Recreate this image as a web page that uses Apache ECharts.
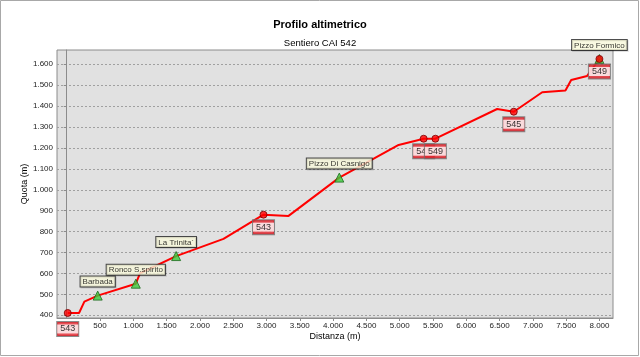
<!DOCTYPE html>
<html><head><meta charset="utf-8">
<script src="https://cdn.jsdelivr.net/npm/echarts@6/dist/echarts.min.js"></script>
<style>html,body{margin:0;padding:0;background:#fff}#c{width:640px;height:357px}</style>
</head><body><div id="c"></div>
<script>
// Profile (distance m, altitude m)
const profileDist = [15,185,265,465,1037,1102,1643,2354,2955,3331,4093,4984,5360,5536,6463,6713,7140,7489,7575,7815,7999];
const profileAlt  = [411,411,465,494,551,601,683,765,881,875,1058,1214,1244,1244,1386,1373,1466,1474,1525,1544,1625];
// Trail junction signs
const signDist   = [15,2955,5360,5536,6713,7999];
const signAlt    = [411,881,1244,1244,1373,1625];
const signLabels = ['543','543','542','549','545','549'];
// Waypoints
const wpNames = ['Barbada','Ronco S.spirito','La Trinita`','Pizzo Di Casnigo','Pizzo Formico'];
const wpDist  = [465,1037,1643,4093,7999];
const wpAlt   = [494,551,683,1058,1625];
// Tick values
const xTicks = [500,1000,1500,2000,2500,3000,3500,4000,4500,5000,5500,6000,6500,7000,7500,8000];
const yTicks = [400,500,600,700,800,900,1000,1100,1200,1300,1400,1500,1600];

const FONT = '"Liberation Sans", Arial, sans-serif';
const fmt = v => String(v).replace(/\B(?=(\d{3})+(?!\d))/g, '.');

const chart = echarts.init(document.getElementById('c'), null, {renderer:'canvas'});
chart.setOption({
  animation: false,
  backgroundColor: '#fff',
  textStyle: {fontFamily: FONT},
  graphic: [{type:'rect', shape:{x:0.5,y:0.5,width:638,height:355}, style:{fill:'none', stroke:'#a8a8a8', lineWidth:1}, silent:true, z:-1}],
  title: [
    {text:'Profilo altimetrico', left:'center', top:14, textStyle:{fontFamily:FONT, fontSize:11, fontWeight:'bold', color:'#000'}},
    {text:'Sentiero CAI 542', left:'center', top:33, textStyle:{fontFamily:FONT, fontSize:9.5, fontWeight:'normal', color:'#000'}}
  ],
  grid: {left:57, right:27, top:50, bottom:39, show:true, backgroundColor:'#e1e1e1', borderColor:'#8c8c8c', borderWidth:1},
  xAxis: {
    type:'value', min:-146, max:8203,
    name:'Distanza (m)', nameLocation:'middle', nameGap:14, nameMoveOverlap:false,
    nameTextStyle:{fontFamily:FONT, fontSize:9, color:'#000'},
    axisLine:{show:true, lineStyle:{color:'#8c8c8c'}},
    axisTick:{show:true, length:3, customValues:xTicks, lineStyle:{color:'#8c8c8c'}},
    axisLabel:{customValues:xTicks, formatter:fmt, fontSize:8, color:'#222', margin:4, fontFamily:FONT},
    splitLine:{show:false}
  },
  yAxis: {
    type:'value', min:387, max:1668,
    name:'Quota (m)', nameLocation:'middle', nameGap:28, nameRotate:90, nameMoveOverlap:false,
    nameTextStyle:{fontFamily:FONT, fontSize:9, color:'#000'},
    axisLine:{show:true, lineStyle:{color:'#8c8c8c'}},
    axisTick:{show:true, length:3, customValues:yTicks, lineStyle:{color:'#8c8c8c'}},
    axisLabel:{customValues:yTicks, formatter:fmt, fontSize:8, color:'#222', margin:4, fontFamily:FONT},
    splitLine:{show:true, lineStyle:{color:'#a0a0a0', type:[2,2], width:1}}
  },
  series: [
    {
      type:'line', z:2, symbol:'none', clip:false,
      data: profileDist.map((d,i)=>[d, profileAlt[i]]),
      lineStyle:{color:'#ff0000', width:2}
    },
    {
      type:'scatter', z:3, symbol:'triangle', symbolSize:9,
      data: wpDist.map((d,i)=>({name:wpNames[i], value:[d, wpAlt[i]]})),
      itemStyle:{color:'#3ccc3c', borderColor:'#1a6a1a', borderWidth:1},
      label:{show:true, position:'top', distance:4, formatter:p=>p.name,
        fontFamily:FONT, fontSize:8, lineHeight:9, color:'#000',
        backgroundColor:'#ffffe1', borderColor:'#222', borderWidth:1, padding:[1,2,0,2],
        shadowColor:'rgba(0,0,0,0.15)', shadowOffsetX:1, shadowOffsetY:1, shadowBlur:0}
    },
    {
      type:'scatter', z:4, symbol:'circle', symbolSize:7,
      data: signDist.map((d,i)=>({name:signLabels[i], value:[d, signAlt[i]],
        label: i===0 ? {distance:5} : undefined})),
      itemStyle:{color:'#ff0000', borderColor:'#7a0000', borderWidth:1},
      label:{show:true, position:'bottom', distance:1.5,
        formatter:p=>'{w|'+p.name+'}',
        backgroundColor:'#e2222a', borderColor:'#6e6e6e', borderWidth:1, padding:[3,0,3,0],
        rich:{w:{backgroundColor:'#ffffff', fontFamily:FONT, fontSize:9, lineHeight:8, color:'#000', padding:[0,3,0,3]}}}
    }
  ]
});
</script>
</body></html>
